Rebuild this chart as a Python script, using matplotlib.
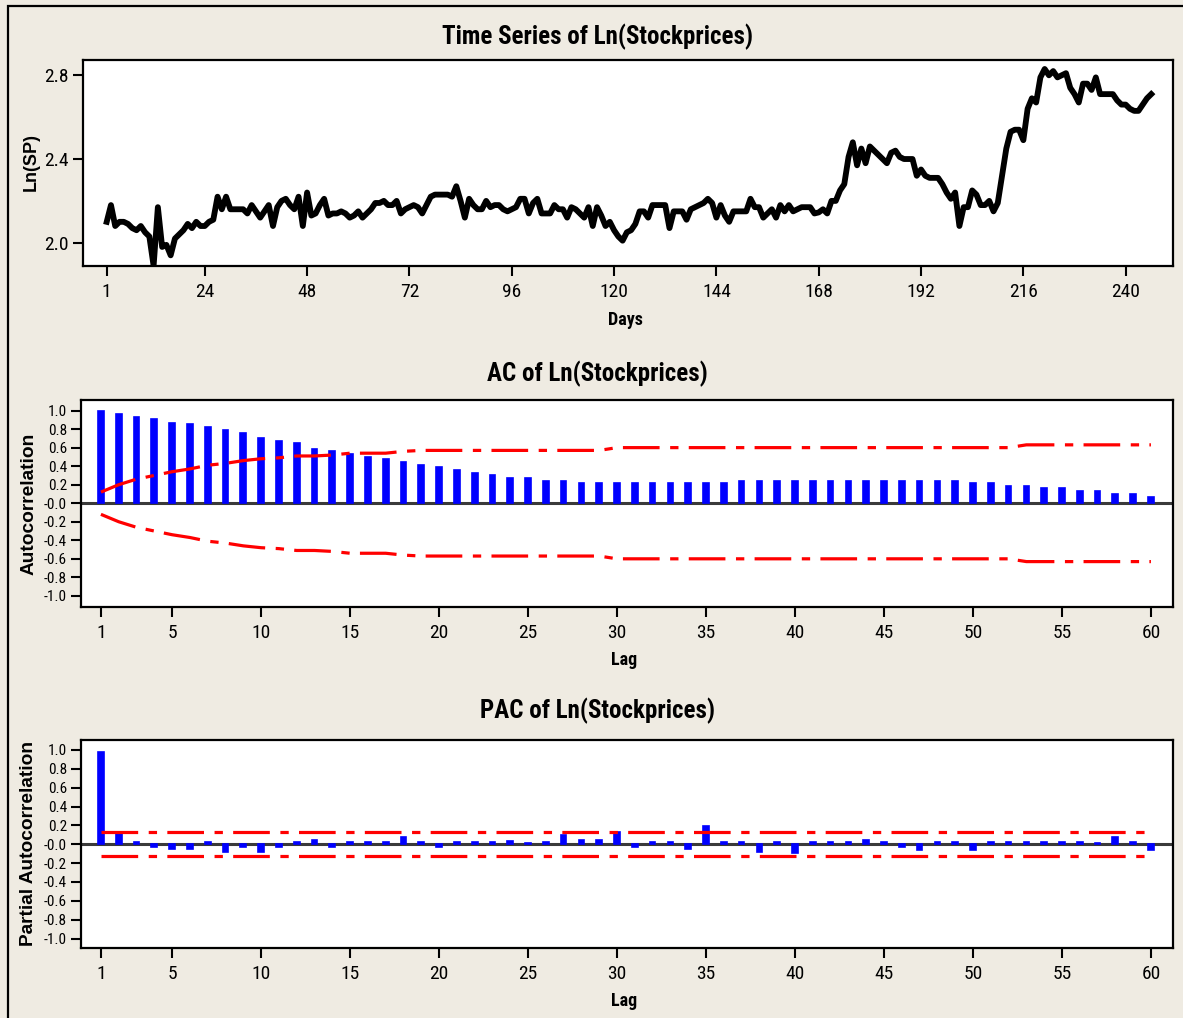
import numpy as np
import matplotlib.pyplot as plt
from matplotlib import font_manager
from matplotlib.patches import Rectangle

# Ln(stock prices), days 1..246
ln_sp = [
    2.10, 2.18, 2.08, 2.10, 2.10, 2.09, 2.07, 2.06, 2.08, 2.05,
    2.03, 1.89, 2.17, 1.98, 1.99, 1.94, 2.02, 2.04, 2.06, 2.09,
    2.07, 2.10, 2.08, 2.08, 2.10, 2.11, 2.22, 2.16, 2.22, 2.16,
    2.16, 2.16, 2.16, 2.14, 2.18, 2.15, 2.12, 2.15, 2.18, 2.08,
    2.17, 2.20, 2.21, 2.18, 2.16, 2.22, 2.08, 2.24, 2.13, 2.14,
    2.18, 2.21, 2.13, 2.14, 2.14, 2.15, 2.14, 2.12, 2.13, 2.15,
    2.12, 2.14, 2.16, 2.19, 2.19, 2.20, 2.18, 2.18, 2.20, 2.14,
    2.16, 2.17, 2.18, 2.17, 2.14, 2.18, 2.22, 2.23, 2.23, 2.23,
    2.23, 2.22, 2.27, 2.20, 2.12, 2.21, 2.18, 2.16, 2.16, 2.20,
    2.17, 2.18, 2.18, 2.16, 2.15, 2.16, 2.17, 2.21, 2.21, 2.14,
    2.19, 2.21, 2.14, 2.14, 2.14, 2.18, 2.16, 2.16, 2.12, 2.17,
    2.16, 2.14, 2.12, 2.17, 2.08, 2.17, 2.13, 2.08, 2.10, 2.06,
    2.03, 2.01, 2.05, 2.06, 2.09, 2.15, 2.15, 2.12, 2.18, 2.18,
    2.18, 2.18, 2.07, 2.15, 2.15, 2.15, 2.11, 2.16, 2.17, 2.18,
    2.19, 2.21, 2.19, 2.12, 2.18, 2.13, 2.10, 2.15, 2.15, 2.15,
    2.15, 2.21, 2.17, 2.17, 2.12, 2.14, 2.16, 2.12, 2.18, 2.15,
    2.18, 2.15, 2.16, 2.17, 2.17, 2.17, 2.14, 2.145, 2.16, 2.14,
    2.20, 2.20, 2.25, 2.28, 2.41, 2.48, 2.37, 2.45, 2.38, 2.46,
    2.44, 2.42, 2.40, 2.38, 2.43, 2.44, 2.41, 2.40, 2.40, 2.40,
    2.32, 2.35, 2.32, 2.31, 2.31, 2.31, 2.28, 2.24, 2.21, 2.24,
    2.08, 2.17, 2.17, 2.25, 2.23, 2.18, 2.18, 2.20, 2.15, 2.19,
    2.32, 2.45, 2.53, 2.54, 2.54, 2.49, 2.64, 2.69, 2.67, 2.79,
    2.83, 2.80, 2.82, 2.79, 2.80, 2.81, 2.74, 2.71, 2.67, 2.76,
    2.76, 2.73, 2.79, 2.71, 2.71, 2.71, 2.71, 2.68, 2.66, 2.66,
    2.64, 2.63, 2.63, 2.66, 2.69, 2.71,
]
days = np.arange(1, len(ln_sp) + 1)
day_ticks = [1, 24, 48, 72, 96, 120, 144, 168, 192, 216, 240]

lags = np.arange(1, 61)
acf = [
    0.99, 0.96, 0.93, 0.91, 0.87, 0.85, 0.82, 0.79, 0.76, 0.70,
    0.67, 0.65, 0.59, 0.56, 0.53, 0.50, 0.475, 0.44, 0.41, 0.39,
    0.36, 0.33, 0.30, 0.27, 0.27, 0.245, 0.245, 0.215, 0.215, 0.215,
    0.215, 0.215, 0.215, 0.215, 0.215, 0.215, 0.245, 0.245, 0.245, 0.245,
    0.245, 0.245, 0.245, 0.245, 0.245, 0.245, 0.245, 0.245, 0.245, 0.215,
    0.215, 0.185, 0.185, 0.16, 0.16, 0.13, 0.13, 0.10, 0.10, 0.07,
]
acf_limit = [
    0.12, 0.20, 0.26, 0.30, 0.34, 0.37, 0.41, 0.43, 0.46, 0.48,
    0.49, 0.51, 0.51, 0.52, 0.54, 0.54, 0.54, 0.56, 0.57, 0.57,
    0.57, 0.57, 0.57, 0.57, 0.57, 0.57, 0.57, 0.57, 0.57, 0.60,
    0.60, 0.60, 0.60, 0.60, 0.60, 0.60, 0.60, 0.60, 0.60, 0.60,
    0.60, 0.60, 0.60, 0.60, 0.60, 0.60, 0.60, 0.60, 0.60, 0.60,
    0.60, 0.60, 0.63, 0.63, 0.63, 0.63, 0.63, 0.63, 0.63, 0.63,
]
pacf = [
    0.98, 0.13, 0.02, -0.03, -0.05, -0.05, 0.02, -0.08, -0.03, -0.08,
    -0.03, 0.02, 0.05, -0.03, 0.02, 0.02, 0.02, 0.08, 0.02, -0.03,
    0.02, 0.02, 0.02, 0.04, 0.01, 0.02, 0.10, 0.05, 0.05, 0.13,
    -0.03, 0.02, 0.02, -0.05, 0.19, 0.02, 0.02, -0.08, 0.02, -0.09,
    0.02, 0.02, 0.02, 0.05, 0.02, -0.03, -0.06, 0.02, 0.02, -0.06,
    0.02, 0.02, 0.02, 0.02, 0.02, 0.02, 0.01, 0.08, 0.02, -0.06,
]
pacf_limit = 0.125
lag_ticks = [1, 5, 10, 15, 20, 25, 30, 35, 40, 45, 50, 55, 60]
corr_ticks = np.round(np.arange(-1.0, 1.01, 0.2), 1)

W, H = 1183, 1018
bg = '#efebe2'
plt.rcParams['lines.scale_dashes'] = False
dashdot = (0, (26.4, 7.6, 6, 7.4))

# look for a narrow face, fall back to condensed DejaVu
names = {f.name for f in font_manager.fontManager.ttflist}
narrow_family = ['DejaVu Sans']
for cand in ['Liberation Sans Narrow', 'Roboto Condensed', 'Open Sans Condensed',
             'DejaVu Sans Condensed']:
    if cand in names:
        narrow_family = [cand, 'DejaVu Sans']
        break
NARROW = dict(family=narrow_family, stretch='condensed')
BOLDSANS = dict(family=['Liberation Sans', 'DejaVu Sans'], fontweight='bold')

fig = plt.figure(figsize=(W / 100, H / 100), dpi=100)
fig.patch.set_facecolor(bg)
fig.patches.append(Rectangle((7.5 / W, -0.1), 1.2, 1.1 - 6 / H, transform=fig.transFigure,
                             fill=False, edgecolor='black', linewidth=1.6))


def make_axes(left, top, right, bottom):
    ax = fig.add_axes([left / W, 1 - bottom / H, (right - left) / W, (bottom - top) / H])
    ax.set_facecolor('white')
    for s in ax.spines.values():
        s.set_linewidth(1.6)
        s.set_color('black')
    ax.tick_params(direction='out', length=7, width=1.5, colors='black')
    ax.tick_params(axis='x', pad=5)
    ax.tick_params(axis='y', pad=3)
    return ax


def style_ticks(ax, xsize, ysize):
    for lab in ax.get_xticklabels():
        lab.set(**NARROW, fontsize=xsize)
    for lab in ax.get_yticklabels():
        lab.set(**NARROW, fontsize=ysize)


# --- time series ---
ax1 = make_axes(83, 60, 1173, 266)
ax1.plot(days, ln_sp, color='black', linewidth=4.2, solid_joinstyle='round')
ax1.set_xlim(-4.56, 251.1)
ax1.set_ylim(1.889, 2.873)
ax1.set_xticks(day_ticks)
ax1.set_yticks([2.0, 2.4, 2.8])
ax1.set_yticklabels(['2.0', '2.4', '2.8'])
style_ticks(ax1, 14, 14)
fig.text(31 / W, 1 - 162 / H, 'Ln(SP)', **BOLDSANS, fontsize=13, rotation=90,
         ha='center', va='center')
fig.text(597 / W, 1 - 37 / H, 'Time Series of Ln(Stockprices)', **NARROW,
         fontweight='bold', fontsize=18, ha='center', va='center')
fig.text(625 / W, 1 - 320 / H, 'Days', **NARROW, fontweight='bold',
         fontsize=13, ha='center', va='center')


def corr_panel(top, bottom, vals, lim, ylabel, title, title_y, xlab_y, ylim):
    ax = make_axes(81, top, 1173, bottom)
    ax.axhline(0, color='#3a3a3a', linewidth=2.2, zorder=1)
    ax.bar(lags, vals, width=0.32, color='#0000ff', edgecolor='#0000ff',
           linewidth=1.2, zorder=2)
    lim = np.broadcast_to(np.asarray(lim, dtype=float), lags.shape)
    ax.plot(lags, lim, color='red', linewidth=2.3, linestyle=dashdot, zorder=3)
    ax.plot(lags, -lim, color='red', linewidth=2.3, linestyle=dashdot, zorder=3)
    ax.set_xlim(-0.12, 61.24)
    ax.set_ylim(*ylim)
    ax.set_xticks(lag_ticks)
    ax.set_yticks(corr_ticks)
    ax.set_yticklabels([f'{v:.1f}' for v in corr_ticks])
    style_ticks(ax, 14, 11)
    fig.text(29 / W, 1 - (top + bottom) / 2 / H, ylabel, **BOLDSANS, fontsize=13.8,
             rotation=90, ha='center', va='center')
    fig.text(597 / W, 1 - title_y / H, title, **NARROW, fontweight='bold',
             fontsize=18, ha='center', va='center')
    fig.text(624 / W, 1 - xlab_y / H, 'Lag', **NARROW, fontweight='bold',
             fontsize=13, ha='center', va='center')
    return ax


ax2 = corr_panel(400, 607, acf, acf_limit, 'Autocorrelation', 'AC of Ln(Stockprices)',
                 374, 660, (-1.12, 1.114))
ax3 = corr_panel(740, 948, pacf, pacf_limit, 'Partial Autocorrelation',
                 'PAC of Ln(Stockprices)', 711, 1001, (-1.10, 1.106))

fig.savefig('out.png', dpi=100, facecolor=bg)
